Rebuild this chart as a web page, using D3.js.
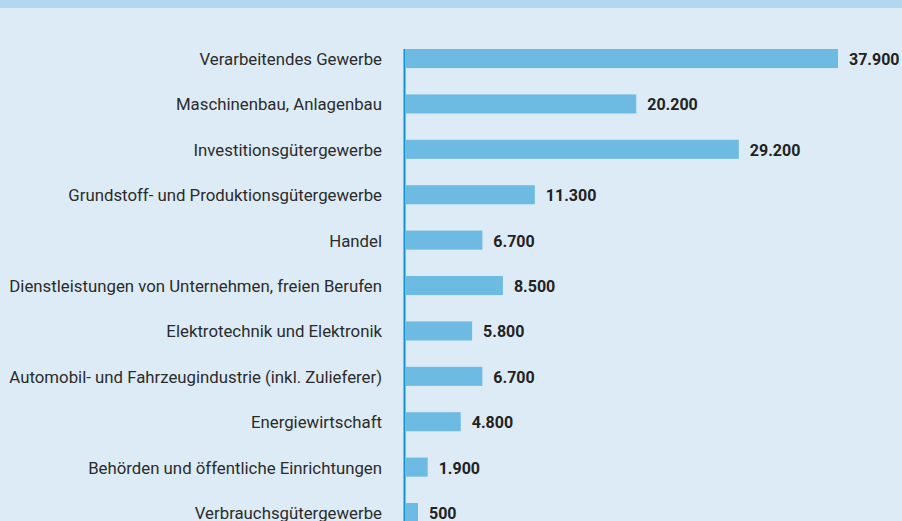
<!DOCTYPE html>
<html>
<head>
<meta charset="utf-8">
<script src="https://cdn.jsdelivr.net/npm/d3@7"></script>
<style>
	html, body { margin:0; padding:0; background:#ddebf7; }
	svg { display:block; }
	.cat { font-family:Roboto,"DejaVu Sans Condensed",sans-serif; font-size:16.8px; fill:#2b2b2b; }
	.val { font-family:Roboto,"DejaVu Sans Condensed",sans-serif; font-size:16px; font-weight:bold; fill:#222; }
</style>
</head>
<body>
<svg id="chart" width="902" height="521"></svg>
<script>
// data
const categories = [
	'Verarbeitendes Gewerbe',
	'Maschinenbau, Anlagenbau',
	'Investitionsgütergewerbe',
	'Grundstoff- und Produktionsgütergewerbe',
	'Handel',
	'Dienstleistungen von Unternehmen, freien Berufen',
	'Elektrotechnik und Elektronik',
	'Automobil- und Fahrzeugindustrie (inkl. Zulieferer)',
	'Energiewirtschaft',
	'Behörden und öffentliche Einrichtungen',
	'Verbrauchsgütergewerbe'
];
const values = [37900, 20200, 29200, 11300, 6700, 8500, 5800, 6700, 4800, 1900, 500];
const valueLabels = ['37.900','20.200','29.200','11.300','6.700','8.500','5.800','6.700','4.800','1.900','500'];

const svg = d3.select('#chart');
const W = +svg.attr('width');
const H = +svg.attr('height');

const data = categories.map((c,i)=>({cat:c, value:values[i], label:valueLabels[i]}));

// top band
svg.append('rect')
	.attr('x',0).attr('y',0)
	.attr('width',W).attr('height',8)
	.attr('fill','#b3d7ef');

const x0 = 406;
const xScale = d3.scaleLinear()
	.domain([0,37900])
	.range([x0,838]);

const step = 45.4;
const pad = 0.58;
const yScale = d3.scaleBand()
	.domain(categories)
	.range([49, 49 + step*(categories.length - pad)])
	.paddingInner(pad)
	.paddingOuter(0);

const barW = d=>Math.max(xScale(d.value)-xScale(0), 12);

const g = svg.append('g');

g.selectAll('rect.bar').data(data)
	.enter().append('rect')
	.attr('class','bar')
	.attr('x',xScale(0))
	.attr('y',d=>yScale(d.cat))
	.attr('width',barW)
	.attr('height',yScale.bandwidth())
	.attr('fill','#6dbbe3');

// axis line
g.append('line')
	.attr('x1',x0-1.5).attr('x2',x0-1.5)
	.attr('y1',49).attr('y2',H)
	.attr('stroke','#0b94d3')
	.attr('stroke-width',2);

g.selectAll('text.cat').data(data)
	.enter().append('text')
	.attr('class','cat')
	.attr('x',382)
	.attr('y',d=>yScale(d.cat)+yScale.bandwidth()/2)
	.attr('dy','0.38em')
	.attr('text-anchor','end')
	.text(d=>d.cat);

g.selectAll('text.val').data(data)
	.enter().append('text')
	.attr('class','val')
	.attr('x',d=>x0 + barW(d) + 11)
	.attr('y',d=>yScale(d.cat)+yScale.bandwidth()/2)
	.attr('dy','0.4em')
	.text(d=>d.label);
</script>
</body>
</html>
